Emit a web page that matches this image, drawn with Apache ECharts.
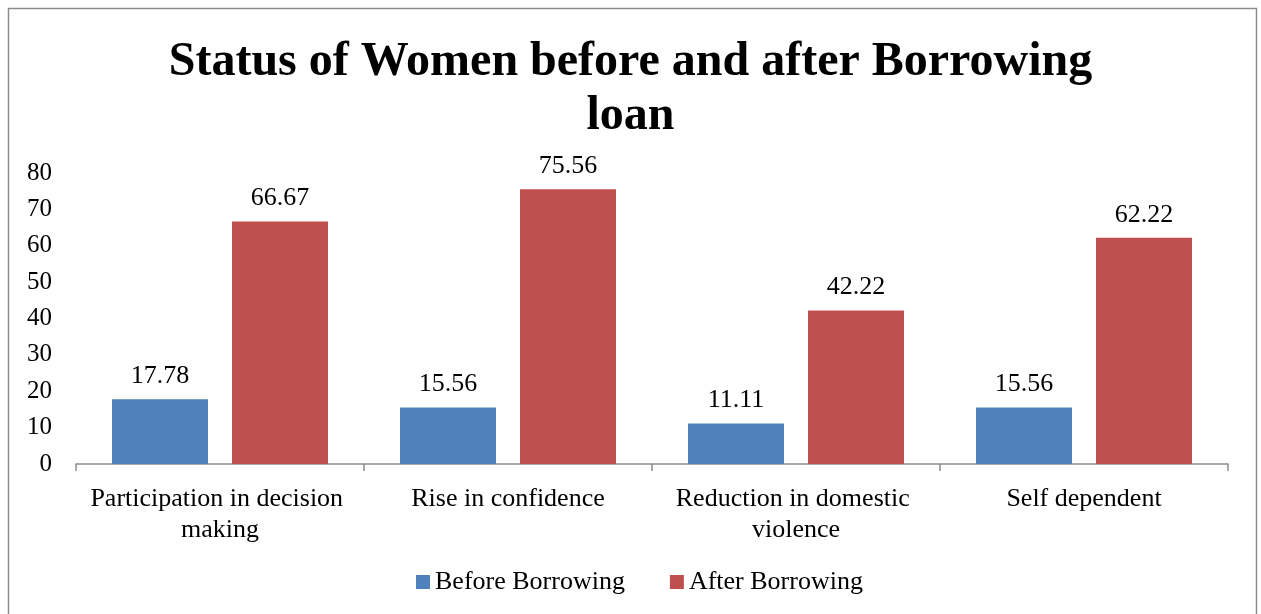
<!DOCTYPE html>
<html>
<head>
<meta charset="utf-8">
<script src="https://cdn.jsdelivr.net/npm/echarts@6/dist/echarts.min.js"></script>
<style>
  html, body { margin: 0; padding: 0; background: #ffffff; }
  #chart { width: 1261px; height: 614px; }
</style>
</head>
<body>
<div id="chart"></div>
<script>
// Survey results: share of women (%) reporting each outcome
const categories = [
  'Participation in decision making',
  'Rise in confidence',
  'Reduction in domestic violence',
  'Self dependent'
];
const beforeBorrowing = [17.78, 15.56, 11.11, 15.56];
const afterBorrowing = [66.67, 75.56, 42.22, 62.22];
const seriesNames = ['Before Borrowing', 'After Borrowing'];
const yTicks = { min: 0, max: 80, interval: 10 };

const FONT = '"Liberation Serif", "Times New Roman", serif';
const chart = echarts.init(document.getElementById('chart'), null, { renderer: 'canvas' });

const labelStyle = {
  show: true,
  position: 'top',
  distance: 10,
  fontFamily: FONT,
  fontSize: 26,
  color: '#000000'
};

chart.setOption({
  backgroundColor: '#ffffff',
  animation: false,
  graphic: [{
    type: 'rect',
    shape: { x: 8.5, y: 8.5, width: 1248, height: 640 },
    style: { fill: 'none', stroke: '#8c8c8c', lineWidth: 1.5 },
    silent: true,
    z: 100
  }],
  title: {
    text: 'Status of Women before and after Borrowing\nloan',
    left: 'center',
    top: 31,
    textStyle: {
      fontFamily: FONT,
      fontWeight: 'bold',
      fontSize: 48,
      lineHeight: 54,
      color: '#000000'
    }
  },
  legend: {
    bottom: 14,
    left: 411,
    itemWidth: 14,
    itemHeight: 14,
    itemGap: 45,
    icon: 'rect',
    textStyle: { fontFamily: FONT, fontSize: 26, color: '#000000' },
    data: seriesNames
  },
  grid: { left: 76, right: 33, top: 173, bottom: 150, containLabel: false },
  xAxis: {
    type: 'category',
    data: categories,
    axisLine: { show: true, lineStyle: { color: '#8c8c8c', width: 1.5 } },
    axisTick: { show: true, length: 7, alignWithLabel: false, lineStyle: { color: '#8c8c8c', width: 1.5 } },
    axisLabel: {
      interval: 0,
      margin: 20,
      fontFamily: FONT,
      fontSize: 26,
      lineHeight: 31,
      color: '#000000',
      width: 280,
      overflow: 'break'
    },
    splitLine: { show: false }
  },
  yAxis: {
    type: 'value',
    min: yTicks.min,
    max: yTicks.max,
    interval: yTicks.interval,
    axisLine: { show: false },
    axisTick: { show: false },
    splitLine: { show: false },
    axisLabel: {
      margin: 24,
      fontFamily: FONT,
      fontSize: 25,
      color: '#000000'
    }
  },
  series: [
    {
      name: seriesNames[0],
      type: 'bar',
      data: beforeBorrowing,
      barGap: '25%',
      barCategoryGap: '25%',
      itemStyle: { color: '#4F81BD' },
      label: labelStyle
    },
    {
      name: seriesNames[1],
      type: 'bar',
      data: afterBorrowing,
      barGap: '25%',
      barCategoryGap: '25%',
      itemStyle: { color: '#C0504D' },
      label: labelStyle
    }
  ]
});
</script>
</body>
</html>
